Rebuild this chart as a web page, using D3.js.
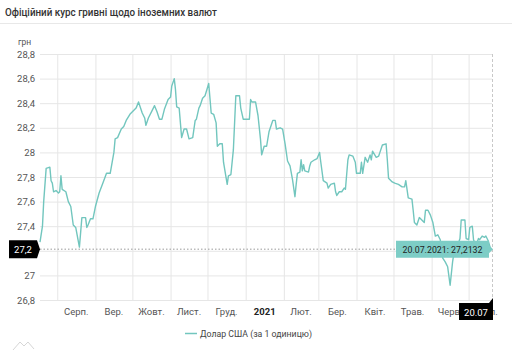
<!DOCTYPE html>
<html lang="uk">
<head>
<meta charset="utf-8">
<script src="https://cdn.jsdelivr.net/npm/d3@7"></script>
<style>
  html, body { margin: 0; padding: 0; background: #fff; }
  svg { display: block; font-family: Roboto, "Noto Sans", sans-serif; }
</style>
</head>
<body>
<svg id="chart" width="512" height="350"></svg>
<script>
// Офіційний курс долара США (грн за 1 одиницю)
const dates = [
  "2020-07-18","2020-07-20","2020-07-21","2020-07-23","2020-07-26","2020-07-27","2020-07-28","2020-07-29",
  "2020-07-31","2020-08-02","2020-08-03","2020-08-04","2020-08-05","2020-08-08","2020-08-10","2020-08-12",
  "2020-08-14","2020-08-16","2020-08-19","2020-08-21","2020-08-24","2020-08-25","2020-08-26","2020-08-28",
  "2020-08-30","2020-09-01","2020-09-04","2020-09-07","2020-09-10","2020-09-13","2020-09-16","2020-09-17",
  "2020-09-19","2020-09-22","2020-09-24","2020-09-26","2020-09-29","2020-10-02","2020-10-04","2020-10-06",
  "2020-10-09","2020-10-11","2020-10-12","2020-10-14","2020-10-17","2020-10-19","2020-10-21","2020-10-23",
  "2020-10-25","2020-10-27","2020-10-30","2020-11-01","2020-11-02","2020-11-04","2020-11-05","2020-11-06",
  "2020-11-08","2020-11-10","2020-11-12","2020-11-14","2020-11-16","2020-11-19","2020-11-21","2020-11-22",
  "2020-11-24","2020-11-25","2020-11-27","2020-11-29","2020-12-02","2020-12-04","2020-12-06","2020-12-08",
  "2020-12-09","2020-12-11","2020-12-13","2020-12-14","2020-12-17","2020-12-18","2020-12-20","2020-12-22",
  "2020-12-24","2020-12-27","2020-12-28","2020-12-30","2021-01-04","2021-01-05","2021-01-06","2021-01-09",
  "2021-01-11","2021-01-13","2021-01-14","2021-01-16","2021-01-18","2021-01-20","2021-01-23","2021-01-25",
  "2021-01-26","2021-01-29","2021-01-31","2021-02-02","2021-02-04","2021-02-06","2021-02-08","2021-02-10",
  "2021-02-11","2021-02-12","2021-02-14","2021-02-15","2021-02-16","2021-02-17","2021-02-18","2021-02-21",
  "2021-02-22","2021-02-23","2021-02-26","2021-02-28","2021-03-02","2021-03-03","2021-03-05","2021-03-08",
  "2021-03-09","2021-03-11","2021-03-14","2021-03-15","2021-03-16","2021-03-18","2021-03-20","2021-03-22",
  "2021-03-23","2021-03-25","2021-03-26","2021-03-29","2021-03-31","2021-04-01","2021-04-04","2021-04-05",
  "2021-04-06","2021-04-08","2021-04-10","2021-04-12","2021-04-13","2021-04-14","2021-04-17","2021-04-19",
  "2021-04-20","2021-04-22","2021-04-25","2021-04-26","2021-04-27","2021-04-30","2021-05-02","2021-05-05",
  "2021-05-08","2021-05-10","2021-05-11","2021-05-13","2021-05-16","2021-05-17","2021-05-18","2021-05-20",
  "2021-05-22","2021-05-24","2021-05-26","2021-05-27","2021-05-29","2021-05-31","2021-06-02","2021-06-04",
  "2021-06-06","2021-06-08","2021-06-10","2021-06-12","2021-06-14","2021-06-16","2021-06-18","2021-06-20",
  "2021-06-22","2021-06-24","2021-06-25","2021-06-28","2021-06-29","2021-07-01","2021-07-02","2021-07-04",
  "2021-07-05","2021-07-07","2021-07-09","2021-07-10","2021-07-12","2021-07-14","2021-07-15","2021-07-17",
  "2021-07-19","2021-07-20"
];
const usdRates = [
  27.27,27.40,27.60,27.87,27.88,27.77,27.75,27.68,
  27.69,27.67,27.68,27.81,27.70,27.68,27.60,27.56,
  27.41,27.39,27.23,27.47,27.47,27.39,27.41,27.46,
  27.46,27.56,27.67,27.75,27.83,27.83,28.00,28.11,
  28.12,28.19,28.21,28.26,28.31,28.34,28.36,28.41,
  28.32,28.28,28.22,28.28,28.34,28.38,28.33,28.27,
  28.27,28.35,28.43,28.45,28.54,28.60,28.51,28.37,
  28.36,28.12,28.19,28.19,28.11,28.12,28.26,28.27,
  28.36,28.38,28.44,28.46,28.56,28.32,28.31,28.24,
  28.05,28.07,28.07,27.92,27.74,27.81,27.82,28.02,
  28.46,28.46,28.36,28.27,28.27,28.43,28.41,28.41,
  28.30,28.11,27.98,28.05,28.05,28.17,28.26,28.26,
  28.19,28.20,28.19,28.07,27.93,27.89,27.78,27.64,
  27.74,27.83,27.84,27.94,27.85,27.90,27.85,27.84,
  27.89,27.92,27.94,27.95,28.00,27.92,27.77,27.75,
  27.71,27.74,27.75,27.68,27.65,27.68,27.68,27.71,
  27.70,27.94,27.98,27.97,27.92,27.83,27.83,27.92,
  27.83,27.96,27.92,27.98,27.94,28.01,27.96,27.97,
  28.00,28.06,28.07,27.94,27.79,27.76,27.75,27.74,
  27.72,27.72,27.77,27.63,27.62,27.53,27.43,27.41,
  27.47,27.45,27.43,27.53,27.53,27.49,27.43,27.32,
  27.33,27.29,27.14,27.11,27.07,26.92,27.11,27.24,
  27.24,27.30,27.45,27.45,27.30,27.29,27.39,27.40,
  27.29,27.24,27.30,27.29,27.32,27.31,27.32,27.28,
  27.21,27.2132
];
const yTicks = [26.8, 27, 27.2, 27.4, 27.6, 27.8, 28, 28.2, 28.4, 28.6, 28.8];
const monthNames = ["Січ.","Лют.","Бер.","Квіт.","Трав.","Черв.","Лип.","Серп.","Вер.","Жовт.","Лист.","Груд."];
const seriesName = "Долар США (за 1 одиницю)";
const titleText = "Офіційний курс гривні щодо іноземних валют";
const unitText = "грн";

const parse = d3.timeParse("%Y-%m-%d");
const data = dates.map((d, i) => ({ date: parse(d), value: usdRates[i] }));

const uk = d3.formatLocale({ decimal: ",", thousands: " ", grouping: [3], currency: ["", " грн"] });
const fmtTick = uk.format(".1~f");
const fmtShort = uk.format(".1f");
const fmtFull = uk.format(".4f");

const lineColor = "#72c6be";
const plotL = 40, plotR = 492, plotT = 54, plotB = 300;
const axisFont = 9.5;

const svg = d3.select("#chart");

// header
svg.append("text").attr("x", 5).attr("y", 16)
  .attr("font-size", 11.5).attr("font-weight", 500).attr("fill", "#333")
  .attr("textLength", 212).attr("lengthAdjust", "spacingAndGlyphs")
  .text(titleText);
svg.append("line").attr("x1", 0).attr("x2", 512).attr("y1", 23.5).attr("y2", 23.5)
  .attr("stroke", "#e8e8e8").attr("stroke-width", 1);

const x = d3.scaleTime()
  .domain([data[0].date, data[data.length - 1].date])
  .range([plotL, plotR]);
const y = d3.scaleLinear().domain([26.8, 28.8]).range([plotB, plotT]);

const last = data[data.length - 1];
const cxL = x(last.date), cyL = y(last.value);

// horizontal grid + value labels
const yAxis = svg.append("g").attr("transform", `translate(${plotL},0)`)
  .call(d3.axisLeft(y).tickValues(yTicks).tickSize(-(plotR - plotL)).tickPadding(5).tickFormat(fmtTick));
yAxis.select(".domain").remove();
yAxis.selectAll(".tick line").attr("stroke", "#e6e6e6");
yAxis.selectAll(".tick text").attr("fill", "#555").attr("font-size", axisFont)
  .attr("font-family", "Roboto, sans-serif")
  // the value label under the cursor badge is hidden by it
  .attr("display", d => Math.abs(y(d) - cyL) < 10 ? "none" : null);

svg.append("text").attr("x", 18).attr("y", 45)
  .attr("font-size", 8.5).attr("fill", "#555").text(unitText);

// vertical grid at month starts
const monthStarts = d3.timeMonth.range(d3.timeMonth.ceil(x.domain()[0]), x.domain()[1]);
const xGrid = svg.append("g").attr("transform", `translate(0,${plotB})`)
  .call(d3.axisBottom(x).tickValues(monthStarts).tickSize(-(plotB - plotT)).tickFormat(""));
xGrid.select(".domain").remove();
xGrid.selectAll(".tick line").attr("stroke", "#e6e6e6");

// month labels centred in each month cell
const allMonths = d3.timeMonth.range(d3.timeMonth.floor(x.domain()[0]), x.domain()[1]);
allMonths.forEach(m => {
  const cx = (x(m) + x(d3.timeMonth.offset(m, 1))) / 2;
  if (cx < plotL || cx > plotR + 2) return;
  const isYear = m.getMonth() === 0;
  svg.append("text").attr("x", cx).attr("y", 315)
    .attr("text-anchor", "middle").attr("font-size", axisFont)
    .attr("font-weight", isYear ? 700 : 400)
    .attr("fill", isYear ? "#222" : "#555")
    .text(isYear ? d3.timeFormat("%Y")(m) : monthNames[m.getMonth()]);
});

// series line
const line = d3.line().x(d => x(d.date)).y(d => y(d.value));
svg.append("path").datum(data)
  .attr("fill", "none").attr("stroke", lineColor).attr("stroke-width", 1.4)
  .attr("stroke-linejoin", "round").attr("d", line);

// cursor at the last point
svg.append("line").attr("x1", plotL).attr("x2", cxL).attr("y1", cyL).attr("y2", cyL)
  .attr("stroke", "#9a9a9a").attr("stroke-dasharray", "1.5,2").attr("stroke-width", 1);
svg.append("line").attr("x1", cxL + 0.5).attr("x2", cxL + 0.5).attr("y1", plotT).attr("y2", plotB)
  .attr("stroke", "#c8c8c8").attr("stroke-dasharray", "3,2").attr("stroke-width", 1);

// value-axis cursor label
svg.append("path")
  .attr("d", `M9,${cyL - 9} H37 L40,${cyL} L37,${cyL + 9} H9 Z`)
  .attr("fill", "#000");
svg.append("text").attr("x", 23).attr("y", cyL + 3.5).attr("text-anchor", "middle")
  .attr("font-size", axisFont).attr("fill", "#fff").text(fmtShort(last.value));

// date-axis cursor label
svg.append("path")
  .attr("d", `M459,303 H489 L${cxL + 1},298 V320 H459 Z`)
  .attr("fill", "#000");
svg.append("text").attr("x", 476).attr("y", 315.5).attr("text-anchor", "middle")
  .attr("font-size", axisFont).attr("fill", "#fff").text(d3.timeFormat("%d.%m")(last.date));

// tooltip
const tw = 93, th = 17, tx = cxL - 3 - tw;
svg.append("path")
  .attr("d", `M${tx},${cyL - th / 2} H${tx + tw} L${tx + tw},${cyL - 4} L${cxL + 1},${cyL} L${tx + tw},${cyL + 4} V${cyL + th / 2} H${tx} Z`)
  .attr("fill", "#7dcdc6");
svg.append("text").attr("x", tx + tw / 2).attr("y", cyL + 3.5).attr("text-anchor", "middle")
  .attr("font-size", 9.5).attr("fill", "#222")
  .attr("textLength", 80).attr("lengthAdjust", "spacingAndGlyphs")
  .text(`${d3.timeFormat("%d.%m.%Y")(last.date)}: ${fmtFull(last.value)}`);

// legend
svg.append("line").attr("x1", 185).attr("x2", 197).attr("y1", 333.5).attr("y2", 333.5)
  .attr("stroke", lineColor).attr("stroke-width", 1.5);
svg.append("text").attr("x", 200).attr("y", 337)
  .attr("font-size", 9.5).attr("fill", "#444")
  .attr("textLength", 112).attr("lengthAdjust", "spacingAndGlyphs")
  .text(seriesName);

// small watermark glyph
svg.append("path")
  .attr("d", "M13,350 L20,342 L24,346 L28,342 L34,349")
  .attr("fill", "none").attr("stroke", "#d6d6d6").attr("stroke-width", 1);
</script>
</body>
</html>
